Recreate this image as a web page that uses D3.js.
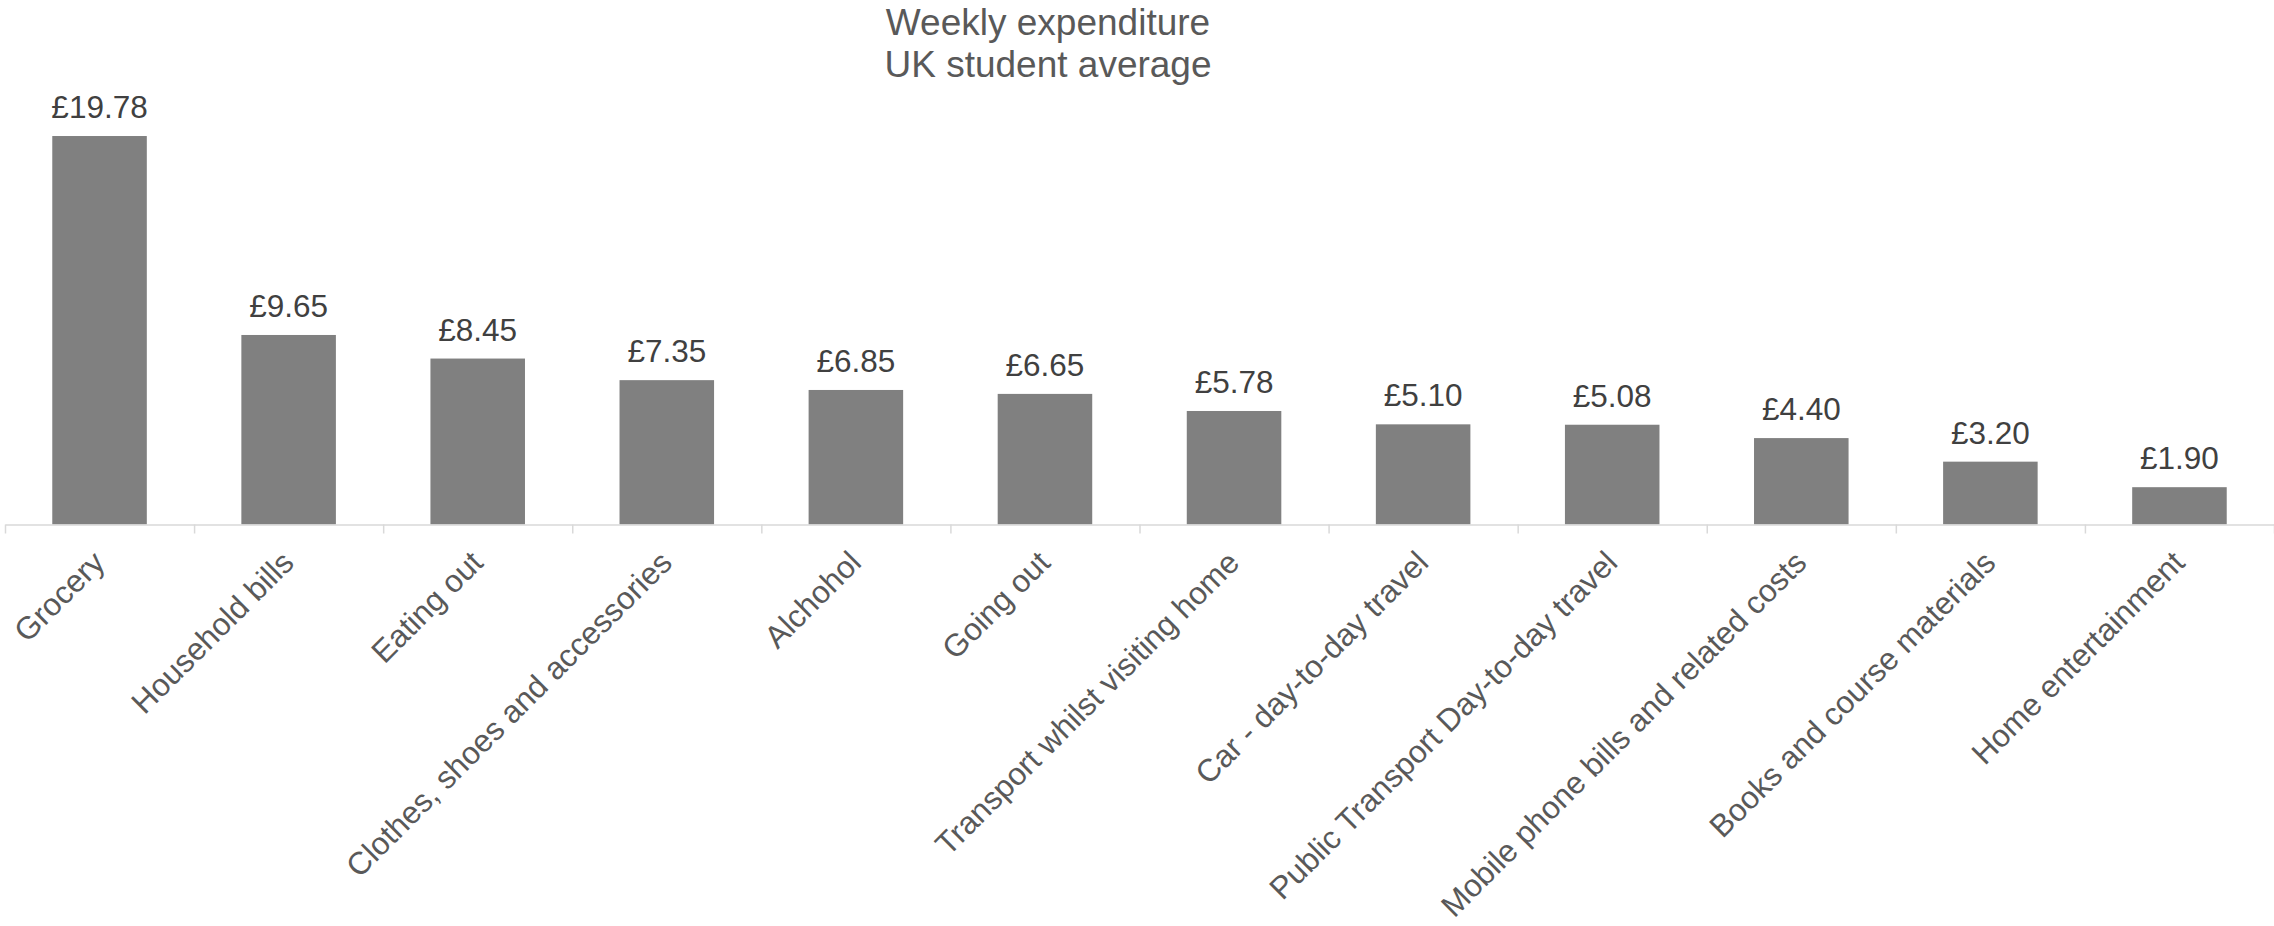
<!DOCTYPE html>
<html>
<head>
<meta charset="utf-8">
<script src="https://cdn.jsdelivr.net/npm/d3@7"></script>
<style>
  body { margin: 0; background: #fff; }
  svg { display: block; font-family: "Liberation Sans", Arial, sans-serif; }
</style>
</head>
<body>
<svg id="chart"></svg>
<script>
// chart data
const categories = [
  "Grocery", "Household bills", "Eating out", "Clothes, shoes and accessories",
  "Alchohol", "Going out", "Transport whilst visiting home", "Car - day-to-day travel",
  "Public Transport Day-to-day travel", "Mobile phone bills and related costs",
  "Books and course materials", "Home entertainment"
];
const values = [19.78, 9.65, 8.45, 7.35, 6.85, 6.65, 5.78, 5.10, 5.08, 4.40, 3.20, 1.90];
const titleLines = ["Weekly expenditure", "UK student average"];

const width = 2274, height = 926;
const padding = { left: 5, right: 0, top: 33.5, bottom: 401.5 };
const baseY = height - padding.bottom;

const svg = d3.select("#chart").attr("width", width).attr("height", height);

// scales
const x = d3.scaleBand()
  .domain(categories)
  .range([padding.left, width - padding.right])
  .paddingInner(0).paddingOuter(0);

const y = d3.scaleLinear()
  .domain([0, 25])
  .range([baseY, padding.top]);

// title
svg.append("g")
  .selectAll("text")
  .data(titleLines)
  .join("text")
  .attr("x", 1048)
  .attr("y", (d, i) => 35 + i * 42)
  .attr("text-anchor", "middle")
  .attr("font-size", 37)
  .attr("fill", "#595959")
  .text(d => d);

// bars
svg.append("g")
  .selectAll("rect")
  .data(values)
  .join("rect")
  .attr("x", (d, i) => x(categories[i]) + x.bandwidth() * 0.25)
  .attr("width", x.bandwidth() * 0.5)
  .attr("y", d => y(d))
  .attr("height", d => baseY - y(d))
  .attr("fill", "#808080");

// value labels
svg.append("g")
  .selectAll("text")
  .data(values)
  .join("text")
  .attr("x", (d, i) => x(categories[i]) + x.bandwidth() / 2)
  .attr("y", d => y(d) - 18)
  .attr("text-anchor", "middle")
  .attr("font-size", 31.5)
  .attr("fill", "#404040")
  .text(d => "£" + d.toFixed(2));

// category axis: ticks between categories
const tickScale = d3.scaleLinear()
  .domain([0, categories.length])
  .range(x.range());

const axis = d3.axisBottom(tickScale)
  .tickValues(d3.range(categories.length + 1))
  .tickSize(9)
  .tickSizeOuter(0)
  .tickFormat("");

const axisG = svg.append("g")
  .attr("transform", `translate(0, ${baseY})`)
  .call(axis);
axisG.selectAll("path, line")
  .attr("stroke", "#d9d9d9")
  .attr("stroke-width", 1.5);

// category labels, rotated
svg.append("g")
  .selectAll("text")
  .data(categories)
  .join("text")
  .attr("transform", d => `translate(${x(d) + x.bandwidth() / 2 + 7}, ${baseY + 40}) rotate(-45)`)
  .attr("text-anchor", "end")
  .attr("font-size", 31.5)
  .attr("fill", "#595959")
  .text(d => d);
</script>
</body>
</html>
